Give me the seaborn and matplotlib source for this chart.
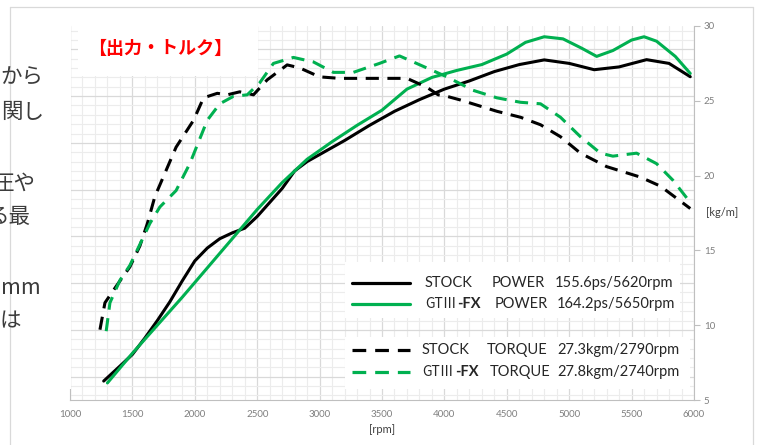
import matplotlib
matplotlib.use('Agg')
import matplotlib.pyplot as plt
from matplotlib.patches import Rectangle
from matplotlib.lines import Line2D
from matplotlib.ticker import MultipleLocator
import pandas as pd
import seaborn as sns

# --- datos ---
# potencia [ps] (eje izquierdo)
stock_power_rpm = [1270, 1400, 1500, 1600, 1700, 1800, 1900, 2000, 2100, 2200, 2300, 2400, 2500,
                   2600, 2700, 2800, 2900, 3000, 3200, 3400, 3600, 3800, 4000, 4200, 4400, 4600,
                   4800, 5000, 5200, 5400, 5620, 5800, 5970]
stock_power_ps = [18.1, 24.5, 29.5, 36.5, 44, 52, 61, 69.5, 75, 79, 81.5, 83.5, 88.5,
                  94.5, 100.5, 108, 112, 115, 121, 127.5, 133.5, 138.5, 143, 146.5, 150.5, 153.5,
                  155.5, 154, 151.3, 152.5, 155.6, 154, 148.3]
gt_power_rpm = [1300, 1500, 1700, 1900, 2100, 2300, 2500, 2700, 2900, 3100, 3300, 3500, 3700,
                3900, 4100, 4300, 4500, 4650, 4800, 4950, 5100, 5220, 5350, 5500, 5600, 5700,
                5850, 5970]
gt_power_ps = [17.3, 30, 42, 54, 66.5, 79, 91.5, 103, 113, 120.5, 127.5, 134, 143,
               148, 151, 153.5, 158, 163, 165.4, 164.5, 160.5, 157, 159.5, 164, 165.4, 163.5,
               157, 149.7]

# torque [kg/m] (eje derecho)
stock_torque_rpm = [1240, 1280, 1370, 1480, 1560, 1620, 1680, 1850, 1990, 2070, 2180, 2260, 2360,
                    2470, 2580, 2740, 2840, 3000, 3160, 3480, 3700, 3860, 3950, 4020, 4130, 4420,
                    4610, 4770, 4930, 5090, 5300, 5570, 5730, 5970]
stock_torque_kgm = [9.7, 11.5, 12.6, 13.9, 15.3, 16.8, 18.6, 21.9, 23.7, 25.2, 25.5, 25.4, 25.6,
                    25.4, 26.4, 27.4, 27.2, 26.6, 26.5, 26.5, 26.5, 25.9, 25.4, 25.3, 25.05, 24.3,
                    23.9, 23.4, 22.6, 21.5, 20.6, 19.9, 19.3, 17.8]
gt_torque_rpm = [1290, 1320, 1400, 1480, 1640, 1720, 1850, 1960, 2100, 2200, 2310, 2420, 2520,
                 2630, 2790, 2950, 3110, 3270, 3480, 3640, 3750, 4020, 4230, 4420, 4610, 4770,
                 4930, 5090, 5250, 5350, 5540, 5700, 5830, 5980]
gt_torque_kgm = [9.6, 11.5, 13.0, 14.0, 16.8, 17.9, 19.0, 20.8, 23.7, 24.8, 25.3, 25.4, 26.2,
                 27.5, 27.9, 27.6, 26.9, 26.9, 27.5, 28.0, 27.6, 26.6, 25.7, 25.2, 24.9, 24.8,
                 23.9, 22.6, 21.5, 21.3, 21.5, 20.8, 19.7, 18.1]

legend_car = ['STOCK', 'GTⅢ', 'STOCK', 'GTⅢ']
legend_kind = ['POWER', 'POWER', 'TORQUE', 'TORQUE']
legend_value = ['155.6ps/5620rpm', '164.2ps/5650rpm', '27.3kgm/2790rpm', '27.8kgm/2740rpm']

side_text = ['から', '関し', '圧や', 'る最', 'mm', 'は']

negro = '#000000'
verde = '#00B050'
gris = '#7f7f7f'

sns.set_style('white')
plt.rcParams['font.family'] = ['Lato', 'Noto Sans CJK JP', 'DejaVu Sans']

power_df = pd.concat([
    pd.DataFrame({'rpm': stock_power_rpm, 'val': stock_power_ps, 'car': 'STOCK'}),
    pd.DataFrame({'rpm': gt_power_rpm, 'val': gt_power_ps, 'car': 'GT'}),
])
torque_df = pd.concat([
    pd.DataFrame({'rpm': stock_torque_rpm, 'val': stock_torque_kgm, 'car': 'STOCK'}),
    pd.DataFrame({'rpm': gt_torque_rpm, 'val': gt_torque_kgm, 'car': 'GT'}),
])
paleta = {'STOCK': negro, 'GT': verde}

W, H = 762, 445
fig = plt.figure(figsize=(W / 100, H / 100), dpi=100)
ax = fig.add_axes([70 / W, 1 - 400 / H, 624 / W, 374 / H])


def fx(px):
    return px / W


def fy(py):
    return 1 - py / H


sns.lineplot(data=power_df, x='rpm', y='val', hue='car', palette=paleta, sort=False,
             estimator=None, lw=2.2, legend=False, ax=ax)
ax2 = ax.twinx()
sns.lineplot(data=torque_df, x='rpm', y='val', hue='car', palette=paleta, sort=False,
             estimator=None, lw=2.2, legend=False, ax=ax2)
for ln in ax2.lines:
    ln.set_linestyle((0, (4.3, 2.8)))

ax.set_xlim(1000, 6000)
ax.set_ylim(10, 170)
ax2.set_ylim(5, 30)
ax.xaxis.set_major_locator(MultipleLocator(500))
ax.xaxis.set_minor_locator(MultipleLocator(100))
ax.yaxis.set_major_locator(MultipleLocator(20))
ax.yaxis.set_minor_locator(MultipleLocator(4))
ax2.yaxis.set_major_locator(MultipleLocator(5))
ax.grid(which='major', color='#d9d9d9', lw=0.9)
ax.grid(which='minor', color='#ececec', lw=0.8)
ax.set_axisbelow(True)

for s in ['top', 'right']:
    ax.spines[s].set_visible(False)
for s in ['top', 'left', 'bottom']:
    ax2.spines[s].set_visible(False)
for s in ['left', 'bottom']:
    ax.spines[s].set_color('#bfbfbf')
ax2.spines['right'].set_color('#bfbfbf')

ax.tick_params(which='major', length=4, width=0.8, color='#bfbfbf', labelsize=7,
               labelcolor=gris, pad=3)
ax.tick_params(which='minor', length=0)
ax2.tick_params(which='major', length=4, width=0.8, color='#bfbfbf', labelsize=7,
                labelcolor=gris, pad=3)

ax.set_xlabel('[rpm]', fontsize=8, color='#404040', labelpad=4)
ax.set_ylabel('')
ax2.set_ylabel('[kg/m]', fontsize=8, color='#404040', rotation=0, ha='center', va='center')
ax2.yaxis.set_label_coords(1.045, 0.5)


def caja(x0, y0, x1, y1):
    fig.add_artist(Rectangle((fx(x0), fy(y1)), fx(x1) - fx(x0), fy(y0) - fy(y1),
                             transform=fig.transFigure, fc='white', ec='none', zorder=3))


def linea(x0, y0, x1, y1, **kw):
    fig.add_artist(Line2D([fx(x0), fx(x1)], [fy(y0), fy(y1)], transform=fig.transFigure,
                          zorder=4, **kw))


# marco de la diapositiva
linea(10, 7, 753, 7, color='#d9d9d9', lw=0.9)
linea(753, 7, 753, 445, color='#d9d9d9', lw=0.9)
linea(10, 7, 10, 445, color='#d9d9d9', lw=0.9)

# cuadros blancos (titulo, texto lateral, leyendas)
caja(78, 26, 258, 76)
caja(0, 18, 71, 389)
caja(345, 262, 680, 318)
caja(345, 337, 690, 389)

fig.text(fx(160), fy(48), '【出力・トルク】', color='#ff0000', fontsize=13, fontweight='bold',
         family=['Noto Sans CJK JP'], ha='center', va='center', zorder=5)

side_pos = [(0, 78), (1, 112), (-8, 184), (-12, 217), (1, 288), (0, 321)]
for txt, (px, py) in zip(side_text, side_pos):
    fig.text(fx(px), fy(py), txt, color='#3c3c3c', fontsize=15.5, family=['Noto Sans CJK JP'],
             ha='left', va='center', zorder=5)

# leyenda
row_y = [283, 304, 350, 372]
row_col = [negro, verde, negro, verde]
row_ls = ['-', '-', (0, (4.3, 2.8)), (0, (4.3, 2.8))]
car_x = [425, 425, 422, 422]
kind_x = [492, 495, 487, 490]
val_x = [555, 557, 557, 557]
renderer = fig.canvas.get_renderer()
for i in range(4):
    linea(352, row_y[i], 410, row_y[i], color=row_col[i], lw=2.3, ls=row_ls[i])
    if legend_car[i] == 'STOCK':
        fig.text(fx(car_x[i]), fy(row_y[i]), legend_car[i], fontsize=10.5, color='#262626',
                 va='center', zorder=5)
    else:
        t = fig.text(fx(car_x[i]), fy(row_y[i]), legend_car[i], fontsize=10, color='#262626',
                     family=['Noto Sans CJK JP'], va='center', zorder=5)
        x_end = t.get_window_extent(renderer).x1
        fig.text(x_end / W + fx(1), fy(row_y[i]), '-FX', fontsize=10.5, color='#262626',
                 fontweight='bold', va='center', zorder=5)
    fig.text(fx(kind_x[i]), fy(row_y[i]), legend_kind[i], fontsize=10.5, color='#262626',
             va='center', zorder=5)
    fig.text(fx(val_x[i]), fy(row_y[i]), legend_value[i], fontsize=10.5, color='#262626',
             va='center', zorder=5)

fig.savefig('out.png', dpi=100)
